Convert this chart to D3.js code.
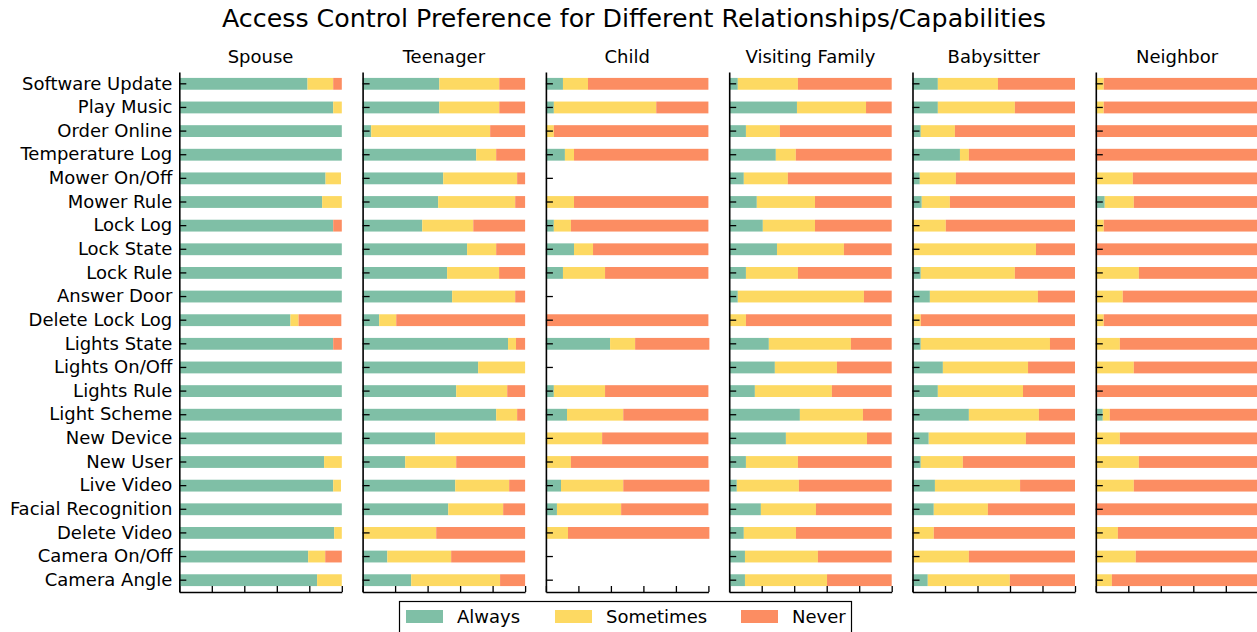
<!DOCTYPE html>
<html>
<head>
<meta charset="utf-8">
<script src="https://cdn.jsdelivr.net/npm/d3@7"></script>
<style>
body { margin: 0; background: #fff; }
text { font-family: "DejaVu Sans", sans-serif; fill: #000; }
</style>
</head>
<body>
<svg id="chart" width="1257" height="632"></svg>
<script>
const categories = ["Software Update", "Play Music", "Order Online", "Temperature Log", "Mower On/Off",
    "Mower Rule", "Lock Log", "Lock State", "Lock Rule", "Answer Door", "Delete Lock Log", "Lights State",
    "Lights On/Off", "Lights Rule", "Light Scheme", "New Device", "New User", "Live Video",
    "Facial Recognition", "Delete Video", "Camera On/Off", "Camera Angle"];
const relationships = ["Spouse", "Teenager", "Child", "Visiting Family", "Babysitter", "Neighbor"];
const responses = ["Always", "Sometimes", "Never"];
const colors = ["#7fbfa6", "#fdd962", "#fc8d62"];
const xTicks = [0, 0.2, 0.4, 0.6, 0.8, 1.0];

// [always, sometimes, never] share per capability
const spouse = [[0.789,0.158,0.053],[0.947,0.053,0],[1,0,0],[1,0,0],[0.9,0.095,0],[0.879,0.121,0],
    [0.947,0,0.053],[1,0,0],[1,0,0],[1,0,0],[0.684,0.05,0.263],[0.947,0,0.053],[1,0,0],[1,0,0],
    [1,0,0],[1,0,0],[0.891,0.109,0],[0.947,0.048,0],[1,0,0],[0.953,0.047,0],[0.793,0.105,0.102],
    [0.848,0.152,0]];
const teenager = [[0.472,0.369,0.159],[0.472,0.369,0.159],[0.053,0.732,0.215],[0.699,0.123,0.178],
    [0.496,0.455,0.049],[0.465,0.474,0.061],[0.367,0.314,0.319],[0.643,0.179,0.178],[0.52,0.32,0.16],
    [0.551,0.388,0.061],[0.102,0.105,0.793],[0.895,0.049,0.056],[0.711,0.289,0],[0.576,0.314,0.11],
    [0.822,0.129,0.049],[0.447,0.553,0],[0.262,0.314,0.424],[0.57,0.332,0.098],[0.527,0.338,0.135],
    [0,0.453,0.547],[0.152,0.393,0.455],[0.299,0.547,0.154]];
const child = [[0.105,0.154,0.741],[0.049,0.63,0.321],[0,0.049,0.951],[0.117,0.056,0.827],[0,0,0],
    [0,0.173,0.827],[0.049,0.105,0.846],[0.173,0.117,0.71],[0.105,0.259,0.636],[0,0,0],[0,0,1],
    [0.395,0.154,0.457],[0,0,0],[0.049,0.315,0.636],[0.13,0.346,0.524],[0,0.346,0.654],[0,0.154,0.846],
    [0.093,0.383,0.53],[0.068,0.395,0.537],[0,0.136,0.87],[0,0,0],[0,0,0]];
const visitingFamily = [[0.053,0.37,0.577],[0.417,0.425,0.158],[0.103,0.209,0.688],[0.287,0.123,0.59],
    [0.09,0.271,0.639],[0.17,0.358,0.472],[0.207,0.321,0.472],[0.294,0.412,0.294],[0.103,0.32,0.577],
    [0.053,0.776,0.171],[0,0.103,0.897],[0.244,0.505,0.251],[0.281,0.382,0.337],[0.158,0.474,0.368],
    [0.435,0.388,0.177],[0.349,0.499,0.152],[0.103,0.32,0.577],[0.047,0.382,0.571],[0.195,0.339,0.466],
    [0.09,0.321,0.589],[0.097,0.449,0.454],[0.097,0.505,0.398]];
const babysitter = [[0.156,0.37,0.474],[0.156,0.474,0.37],[0.051,0.21,0.739],[0.292,0.055,0.653],
    [0.045,0.222,0.733],[0.057,0.173,0.77],[0,0.205,0.795],[0,0.76,0.24],[0.051,0.579,0.37],
    [0.107,0.665,0.228],[0,0.051,0.949],[0.051,0.795,0.154],[0.187,0.524,0.289],[0.156,0.524,0.32],
    [0.347,0.431,0.222],[0.1,0.598,0.302],[0.051,0.259,0.69],[0.138,0.524,0.338],[0.131,0.333,0.536],
    [0,0.131,0.869],[0,0.347,0.653],[0.094,0.505,0.401]];
const neighbor = [[0,0.049,0.951],[0,0.049,0.951],[0,0,1],[0,0,1],[0,0.228,0.772],[0.055,0.179,0.766],
    [0,0.049,0.951],[0,0,1],[0,0.265,0.735],[0,0.166,0.834],[0,0.049,0.951],[0,0.148,0.852],
    [0,0.234,0.766],[0,0,1],[0.043,0.043,0.914],[0,0.148,0.852],[0,0.265,0.735],[0,0.234,0.766],
    [0,0,1],[0,0.136,0.864],[0,0.246,0.754],[0,0.099,0.901]];
const panelData = [spouse, teenager, child, visitingFamily, babysitter, neighbor];

const svg = d3.select("#chart");
const plotTop = 72, plotBottom = 592;
const panelLeft = 179.3, panelStep = 183.3, panelWidth = 162.5;
const labelSize = "18px";

const x = d3.scaleLinear().domain([0, 1]).range([0, panelWidth]);
const y = d3.scaleBand().domain(categories).range([plotTop, plotBottom])
    .paddingInner(0.5).paddingOuter(0.25);

svg.append("text")
    .attr("x", 634).attr("y", 27)
    .attr("text-anchor", "middle")
    .style("font-size", "25.3px")
    .text("Access Control Preference for Different Relationships/Capabilities");

relationships.forEach((rel, i) => {
    let panel = svg.append("g")
        .attr("transform", `translate(${panelLeft + i * panelStep},0)`);

    panel.append("text")
        .attr("x", panelWidth / 2).attr("y", 63)
        .attr("text-anchor", "middle")
        .style("font-size", labelSize)
        .text(rel);

    // stack each row into segments
    let segs = [];
    panelData[i].forEach((row, r) => {
        let acc = 0;
        row.forEach((v, k) => {
            segs.push({cat: categories[r], x0: acc, x1: acc + v, k: k});
            acc += v;
        });
    });

    panel.selectAll("rect.bar")
        .data(segs.filter(d => d.x1 > d.x0))
        .enter().append("rect")
        .attr("class", "bar")
        .attr("x", d => x(d.x0))
        .attr("width", d => x(d.x1) - x(d.x0))
        .attr("y", d => y(d.cat))
        .attr("height", y.bandwidth())
        .attr("fill", d => colors[d.k]);

    let yAxis = d3.axisLeft(y).tickSize(-7).tickSizeOuter(0).tickPadding(7);
    if (i > 0) yAxis.tickFormat("");
    let gy = panel.append("g").call(yAxis);
    gy.selectAll("text").style("font-size", labelSize).attr("fill", "#000");

    let gx = panel.append("g")
        .attr("transform", `translate(0,${plotBottom})`)
        .call(d3.axisBottom(x).tickValues(xTicks).tickSize(-6).tickSizeOuter(0).tickFormat(""));

    [gy, gx].forEach(g => {
        g.select(".domain").attr("stroke", "#000").attr("stroke-width", 1.6);
        g.selectAll(".tick line").attr("stroke", "#000").attr("stroke-width", 1.3);
    });
});

// legend
let legend = svg.append("g");
legend.append("rect")
    .attr("x", 399.5).attr("y", 601.5)
    .attr("width", 452).attr("height", 40)
    .attr("fill", "#fff").attr("stroke", "#000").attr("stroke-width", 1.2);

const legendX = [406, 555, 741];
responses.forEach((r, k) => {
    legend.append("rect")
        .attr("x", legendX[k]).attr("y", 610)
        .attr("width", 37).attr("height", 13)
        .attr("fill", colors[k]);
    legend.append("text")
        .attr("x", legendX[k] + 51).attr("y", 623)
        .style("font-size", labelSize)
        .text(r);
});
</script>
</body>
</html>
